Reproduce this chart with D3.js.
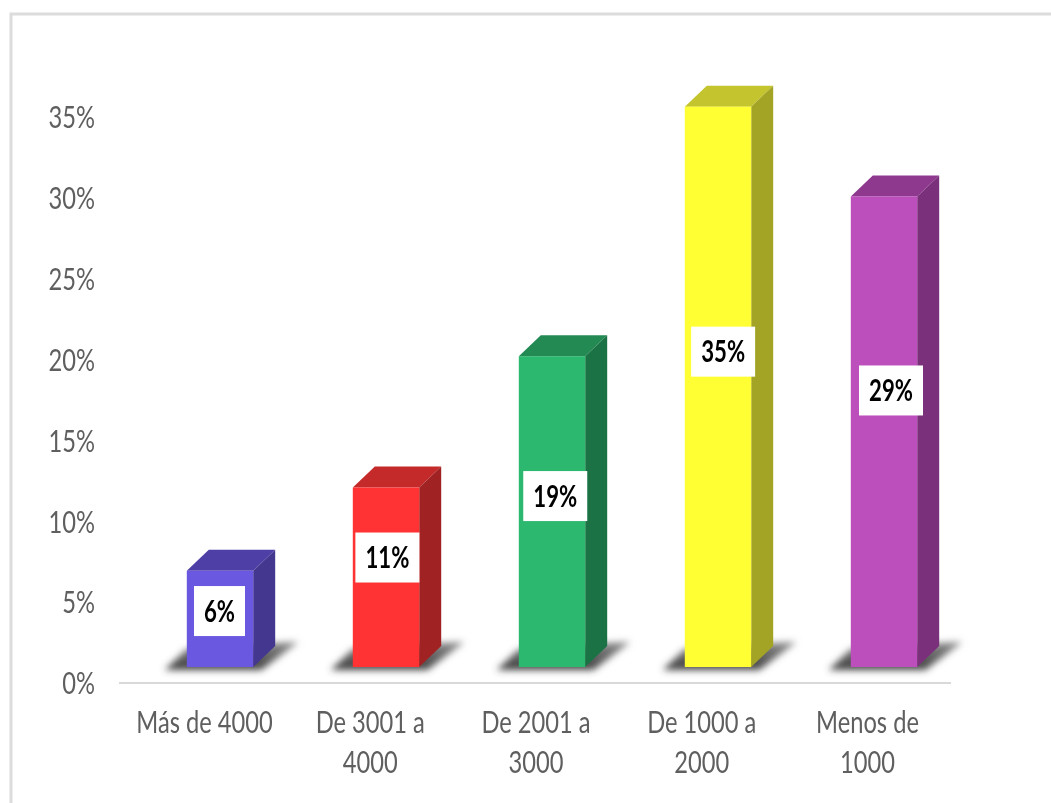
<!DOCTYPE html>
<html>
<head>
<meta charset="utf-8">
<script src="https://cdn.jsdelivr.net/npm/d3@7"></script>
<style>
html,body{margin:0;padding:0;background:#fff;overflow:hidden}
svg{display:block}
text{font-family:Lato,"Open Sans",sans-serif}
</style>
</head>
<body>
<div id="chart"></div>
<script>
const categories = ["Más de 4000", "De 3001 a 4000", "De 2001 a 3000", "De 1000 a 2000", "Menos de 1000"];
const categoryLines = [["Más de 4000"], ["De 3001 a", "4000"], ["De 2001 a", "3000"], ["De 1000 a", "2000"], ["Menos de", "1000"]];
const values = [5.95, 11.1, 19.22, 34.65, 29.1];
const valueLabels = ["6%", "11%", "19%", "35%", "29%"];
const labelAnchors = [3.46, 6.77, 10.57, 19.5, 17.1];
const frontColors = ["#6a58e0", "#ff3333", "#2db86f", "#ffff33", "#bd4fbd"];
const topColors = ["#4e3fa6", "#c42a2a", "#238a54", "#c4c42e", "#8e398e"];
const sideColors = ["#443790", "#a02222", "#1b7245", "#a3a326", "#7a307a"];
const yTicks = [0, 5, 10, 15, 20, 25, 30, 35];

const W = 1051, H = 803;
const svg = d3.select("#chart").append("svg").attr("width", W).attr("height", H);

// Frame
svg.append("path").attr("d", `M11,${H}V14H${W}`).attr("fill", "none")
  .attr("stroke", "#dcdcdc").attr("stroke-width", 3);

const defs = svg.append("defs");
const blur = defs.append("filter").attr("id", "shadowBlur")
  .attr("x", "-30%").attr("y", "-60%").attr("width", "160%").attr("height", "220%");
blur.append("feGaussianBlur").attr("stdDeviation", 3.8);
const soft = defs.append("filter").attr("id", "soft")
  .attr("x", "-10%").attr("y", "-10%").attr("width", "120%").attr("height", "120%");
soft.append("feGaussianBlur").attr("stdDeviation", 0.45);
const grad = defs.append("linearGradient").attr("id", "shadowFill")
  .attr("x1", "0").attr("x2", "0").attr("y1", "0").attr("y2", "1");
grad.append("stop").attr("offset", "0").attr("stop-color", "#8a8a8a");
grad.append("stop").attr("offset", "1").attr("stop-color", "#3c3c3c");

const y = d3.scaleLinear().domain([0, 35]).range([683, 117]);
const x = d3.scaleBand().domain(categories).range([121, 951]).paddingInner(0.6).paddingOuter(0.3);
const labelX = d3.scalePoint().domain(categories).range([219.5, 891]);
const floor = 16, depthX = 22, depthY = 21;
const baseY = y(0) - floor;

// X axis
const xTickScale = d3.scalePoint().domain(categories).range([204, 867]);
const xAxis = svg.append("g").attr("transform", `translate(0,${y(0)})`)
  .call(d3.axisBottom(xTickScale).tickSize(0).tickPadding(0));
xAxis.select(".domain").remove();
svg.append("line").attr("x1", 119).attr("x2", 951).attr("y1", y(0)).attr("y2", y(0))
  .attr("stroke", "#d9d9d9").attr("stroke-width", 2);
xAxis.selectAll(".tick text").each(function (d, i) {
  const t = d3.select(this).text(null).attr("y", null).attr("dy", null)
    .attr("text-anchor", "middle").attr("fill", "#5f5f5f").attr("filter", "url(#soft)")
    .style("font-size", "30px").attr("transform", "scale(0.79,1)");
  categoryLines[i].forEach((line, k) => {
    t.append("tspan").attr("x", 0).attr("y", 50 + k * 40).text(line);
  });
});

// Y axis
const yAxis = svg.append("g").attr("transform", "translate(95,0)")
  .call(d3.axisLeft(y).tickValues(yTicks).tickFormat(d => d + "%").tickSize(0).tickPadding(0));
yAxis.select(".domain").remove();
yAxis.selectAll(".tick text").attr("fill", "#5f5f5f").attr("dy", "0.36em").attr("filter", "url(#soft)")
  .style("font-size", "30px").attr("text-anchor", "end").attr("transform", "scale(0.79,1)");

const bars = svg.selectAll("g.bar").data(categories).join("g").attr("class", "bar");

// Floor shadows
bars.append("path")
  .attr("d", d => {
    const l = x(d) + 16, r = l + x.bandwidth();
    return `M${l - 22},${baseY + 3}L${l},${baseY - 18}L${r + 22},${baseY - 24}L${r + 45},${baseY - 25}L${r + 8},${baseY + 3}Z`;
  })
  .attr("fill", "url(#shadowFill)").attr("filter", "url(#shadowBlur)");

// Top, side, front
bars.each(function (d, i) {
  const g = d3.select(this);
  const l = x(d) + 16, w = x.bandwidth(), r = l + w, top = y(values[i]) - floor;
  g.append("path").attr("fill", topColors[i])
    .attr("d", `M${l},${top}L${l + depthX},${top - depthY}H${r + depthX}L${r},${top}Z`);
  g.append("path").attr("fill", sideColors[i])
    .attr("d", `M${r},${top}L${r + depthX},${top - depthY}V${baseY - depthY}L${r},${baseY}Z`);
  g.append("rect").attr("x", l).attr("y", top).attr("width", w).attr("height", baseY - top)
    .attr("fill", frontColors[i]);
});

// Data labels
bars.each(function (d, i) {
  const g = d3.select(this);
  const cx = labelX(d), cy = y(labelAnchors[i]) - floor;
  const bw = valueLabels[i].length === 2 ? 51 : 64, bh = 50;
  g.append("rect").attr("x", cx - bw / 2).attr("y", cy - bh / 2).attr("width", bw).attr("height", bh).attr("fill", "#fff");
  g.append("text").attr("transform", `translate(${cx},${cy}) scale(0.74,1)`)
    .attr("text-anchor", "middle").attr("dy", "0.36em").attr("filter", "url(#soft)")
    .attr("fill", "#000").style("font-size", "30px").style("font-weight", "700")
    .text(valueLabels[i]);
});
</script>
</body>
</html>
